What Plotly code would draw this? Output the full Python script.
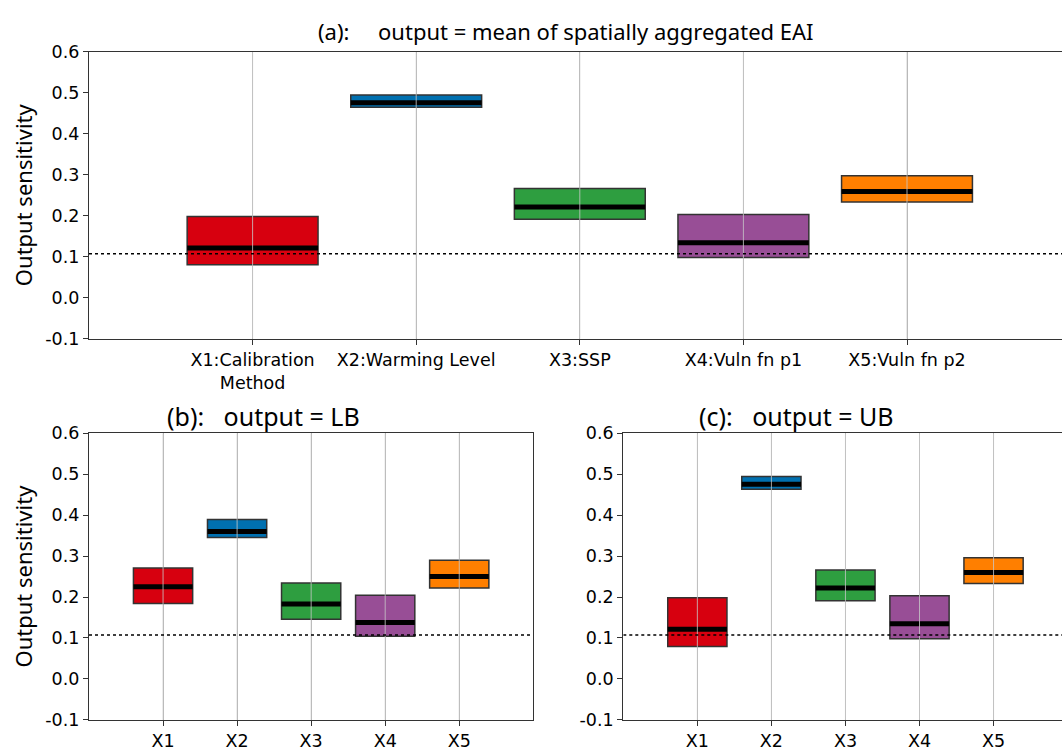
import plotly.graph_objects as go

# ---------------- data ----------------
params = ["X1", "X2", "X3", "X4", "X5"]
labels_a = ["X1:Calibration<br>Method", "X2:Warming Level", "X3:SSP", "X4:Vuln fn p1", "X5:Vuln fn p2"]
colors = ["#d7000f", "#0070b0", "#2e9e40", "#984e96", "#ff7f00"]

a_low = [0.080, 0.464, 0.191, 0.098, 0.233]
a_med = [0.121, 0.475, 0.221, 0.134, 0.259]
a_high = [0.198, 0.494, 0.266, 0.203, 0.297]

b_low = [0.184, 0.345, 0.146, 0.104, 0.222]
b_med = [0.225, 0.360, 0.183, 0.138, 0.250]
b_high = [0.271, 0.389, 0.234, 0.204, 0.290]

c_low = [0.079, 0.463, 0.191, 0.098, 0.233]
c_med = [0.121, 0.475, 0.222, 0.135, 0.260]
c_high = [0.198, 0.494, 0.266, 0.203, 0.296]

threshold = 0.107

y_ticks = [-0.1, 0.0, 0.1, 0.2, 0.3, 0.4, 0.5, 0.6]
y_ticktext = ["-0.1", "0.0", "0.1", "0.2", "0.3", "0.4", "0.5", "0.6"]

titles = ["(a):     output = mean of spatially aggregated EAI", "(b):   output = LB", "(c):   output = UB"]
ylabel = "Output sensitivity"

# ---------------- figure ----------------
W, H = 1062, 752
fig = go.Figure()
BOX_W = 0.8

panels = [
    ("x", "y", a_low, a_med, a_high),
    ("x2", "y2", b_low, b_med, b_high),
    ("x3", "y3", c_low, c_med, c_high),
]
pos = list(range(len(params)))

for xa, ya, lo, md, hi in panels:
    fig.add_trace(go.Bar(
        x=pos, y=[h - l for h, l in zip(hi, lo)], base=lo, width=BOX_W,
        marker=dict(color=colors, line=dict(color="#333333", width=1.5)),
        xaxis=xa, yaxis=ya, showlegend=False, hoverinfo="skip"))
    mx, my = [], []
    for i, m in zip(pos, md):
        mx += [i - BOX_W / 2, i + BOX_W / 2, None]
        my += [m, m, None]
    fig.add_trace(go.Scatter(x=mx, y=my, mode="lines",
                             line=dict(color="black", width=5),
                             xaxis=xa, yaxis=ya, showlegend=False, hoverinfo="skip"))
    # grid lines drawn over the boxes (as in the reference)
    gx, gy = [], []
    for i in pos:
        gx += [i, i, None]
        gy += [y_ticks[0], y_ticks[-1], None]
    fig.add_trace(go.Scatter(x=gx, y=gy, mode="lines",
                             line=dict(color="rgba(200,200,200,0.8)", width=1),
                             xaxis=xa, yaxis=ya, showlegend=False, hoverinfo="skip"))
    fig.add_trace(go.Scatter(x=[-1, 6], y=[threshold, threshold], mode="lines",
                             line=dict(color="black", width=1.5, dash="dot"),
                             xaxis=xa, yaxis=ya, showlegend=False, hoverinfo="skip"))

tickfont = dict(family="DejaVu Sans", size=17.5, color="black")
common_x = dict(tickmode="array", tickvals=pos, showgrid=True, gridcolor="#b0b0b0",
                gridwidth=1, zeroline=False, showline=True, linecolor="#333333",
                linewidth=1.2, ticks="outside", ticklen=5, tickcolor="#333333",
                tickfont=tickfont, mirror=True, layer="above traces", fixedrange=True)
common_y = dict(tickmode="array", tickvals=y_ticks, ticktext=y_ticktext, range=[-0.1, 0.6],
                showgrid=False, zeroline=False, showline=True, linecolor="#333333",
                linewidth=1.2, ticks="outside", ticklen=5, tickcolor="#333333",
                tickfont=tickfont, layer="above traces", fixedrange=True)


def px_x(p):
    return p / W


def px_y(p):
    return 1 - p / H


a_left, a_top, a_bot = 89.0, 42.7, 337.7
a_step = 163.6
b_left, b_right, bc_top, bc_bot = 89.0, 533.3, 434.7, 729.3
c_left = 623.3
bc_step = (b_right - b_left) / 6

fig.update_layout(
    width=W, height=H, margin=dict(l=0, r=0, t=0, b=0),
    paper_bgcolor="white", plot_bgcolor="white", barmode="overlay",
    xaxis=dict(common_x, domain=[px_x(a_left), 1.0], anchor="y",
               ticktext=labels_a, range=[-1, -1 + (W - a_left) / a_step]),
    yaxis=dict(common_y, domain=[px_y(a_bot), px_y(a_top)], anchor="x", mirror=False),
    xaxis2=dict(common_x, domain=[px_x(b_left), px_x(b_right)], anchor="y2",
                ticktext=params, range=[-1, 5]),
    yaxis2=dict(common_y, domain=[px_y(bc_bot), px_y(bc_top)], anchor="x2", mirror=True),
    xaxis3=dict(common_x, domain=[px_x(c_left), 1.0], anchor="y3",
                ticktext=params, range=[-1, -1 + (W - c_left) / bc_step]),
    yaxis3=dict(common_y, domain=[px_y(bc_bot), px_y(bc_top)], anchor="x3", mirror=False),
)

ann = [
    dict(text=titles[0], x=px_x(566), y=px_y(22), font=dict(family="Noto Sans", size=22, color="black")),
    dict(text=titles[1], x=px_x(263), y=px_y(417), font=dict(family="Noto Sans", size=25, color="black")),
    dict(text=titles[2], x=px_x(796), y=px_y(417), font=dict(family="Noto Sans", size=25, color="black")),
]
for a in ann:
    fig.add_annotation(xref="paper", yref="paper", xanchor="center", yanchor="middle",
                       showarrow=False, **a)
for yc in [(a_top + a_bot) / 2, (bc_top + bc_bot) / 2]:
    fig.add_annotation(text=ylabel, xref="paper", yref="paper", x=px_x(23), y=px_y(yc),
                       xanchor="center", yanchor="middle", textangle=-90, showarrow=False,
                       font=dict(family="Noto Sans", size=22, color="black"))

fig.write_html("out.html")
